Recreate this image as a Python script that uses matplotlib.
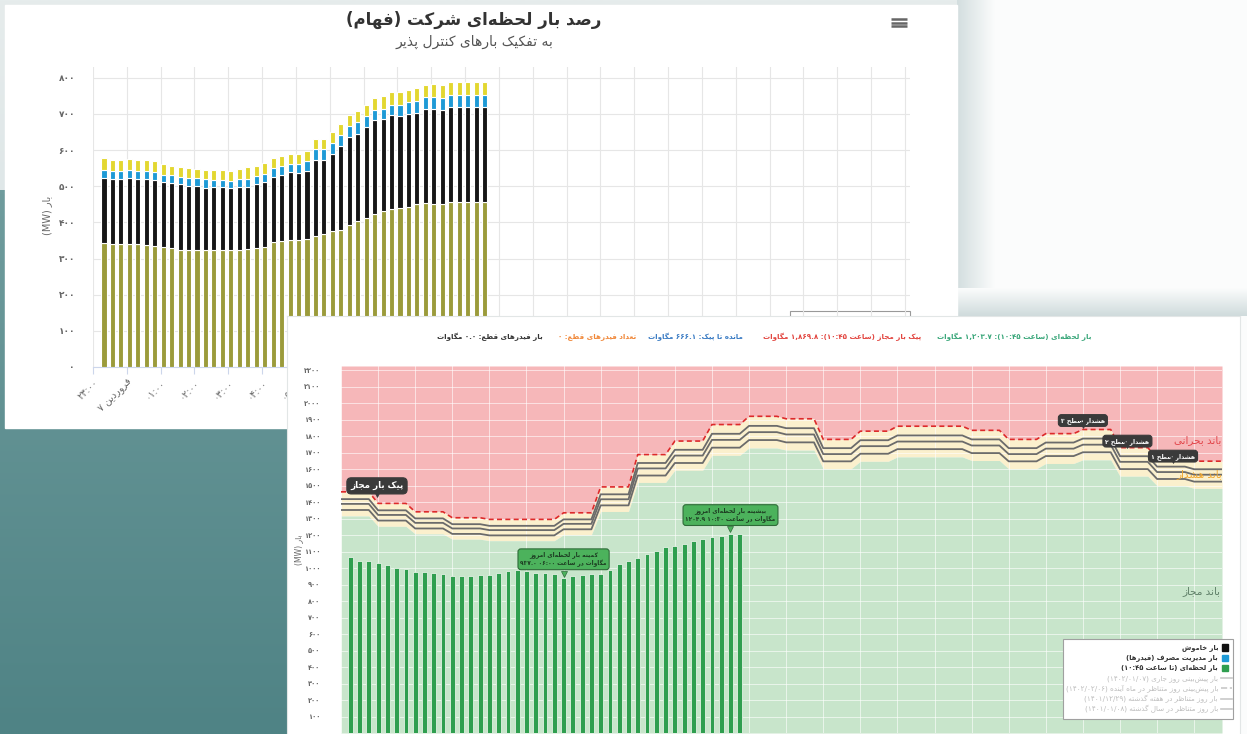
import re
import numpy as np
import matplotlib
matplotlib.use('Agg')
import matplotlib.pyplot as plt
import matplotlib.colors as mcolors
from matplotlib.patches import Rectangle
from matplotlib.transforms import ScaledTranslation

W, H = 1247, 734
plt.rcParams['font.family'] = ['DejaVu Sans']

# ---------------- data ----------------
# chart 1: stacked load per 15 min, 23:15 .. 10:30
olive_load = [344, 340, 339, 340, 340, 338, 334, 332, 328, 325, 325, 325, 323, 325, 325, 323,
              325, 327, 329, 332, 345, 348, 350, 352, 355, 362, 369, 375, 380, 392, 405, 412,
              423, 431, 437, 440, 442, 450, 454, 452, 452, 456, 456, 456, 456, 456]
off_load = [179, 180, 181, 183, 180, 182, 184, 179, 181, 180, 177, 175, 172, 172, 172, 171,
            172, 171, 177, 181, 182, 184, 189, 186, 188, 212, 205, 215, 231, 244, 241, 251,
            259, 255, 259, 254, 258, 253, 260, 262, 260, 262, 262, 262, 262, 262]
dsm_load = [21, 22, 22, 21, 22, 22, 21, 21, 21, 21, 21, 23, 24, 20, 20, 20,
            22, 22, 22, 22, 23, 23, 24, 25, 26, 28, 28, 30, 31, 30, 31, 31,
            30, 29, 30, 32, 32, 33, 32, 32, 32, 34, 34, 34, 34, 34]
yellow_load = [33, 30, 30, 32, 30, 30, 30, 31, 27, 27, 28, 25, 27, 27, 27, 28,
               29, 33, 29, 30, 29, 28, 27, 27, 28, 30, 30, 30, 31, 31, 32, 32,
               33, 34, 34, 35, 35, 35, 35, 36, 36, 37, 37, 37, 37, 37]

# chart 2: instantaneous load per 15 min, 00:15 .. 10:45
live_load = [1066, 1042, 1042, 1030, 1018, 1002, 996, 979, 975, 971, 961, 951, 951, 949, 955,
             959, 971, 981, 987, 981, 971, 971, 961, 937.0, 949, 955, 965, 965, 990, 1022,
             1042, 1062, 1088, 1105, 1130, 1134, 1148, 1162, 1176, 1187, 1197, 1204.9, 1203.7]

# hourly limits (MW), 00:00 .. 23:00
peak_allowed = [1462, 1392, 1341, 1305, 1295, 1295, 1335, 1492, 1688, 1770, 1870, 1920,
                1905, 1780, 1830, 1860, 1860, 1835, 1780, 1815, 1840, 1730, 1665, 1648]
alert_3 = [1418, 1350, 1301, 1266, 1256, 1256, 1295, 1447, 1637, 1717, 1814, 1862,
           1848, 1727, 1775, 1804, 1804, 1780, 1727, 1761, 1785, 1678, 1615, 1599]
alert_2 = [1389, 1322, 1274, 1240, 1230, 1230, 1268, 1417, 1604, 1682, 1777, 1824,
           1810, 1691, 1739, 1767, 1767, 1743, 1691, 1724, 1748, 1644, 1582, 1566]
alert_1 = [1352, 1288, 1240, 1207, 1198, 1198, 1235, 1380, 1561, 1637, 1730, 1776,
           1762, 1647, 1693, 1721, 1721, 1697, 1647, 1679, 1702, 1600, 1540, 1524]
warn_floor = [1316, 1253, 1207, 1175, 1166, 1166, 1202, 1343, 1519, 1593, 1683, 1728,
              1715, 1602, 1647, 1674, 1674, 1652, 1602, 1634, 1656, 1557, 1499, 1483]

header_stats = [
    ('بار فیدرهای قطع: 0.0 مگاوات', '#333333', 490),
    ('تعداد فیدرهای قطع: 0', '#f0883a', 597),
    ('مانده تا پیک: 666.1 مگاوات', '#3b7cc4', 695),
    ('پیک بار مجاز (ساعت 10:45): 1,869.8 مگاوات', '#e2453f', 842),
    ('بار لحظه‌ای (ساعت 10:45): 1,203.7 مگاوات', '#3aa77a', 1014),
]
legend_rows = [
    ('بار خاموش', 'sq', '#111111'),
    ('بار مدیریت مصرف (فیدرها)', 'sq', '#1e9ad6'),
    ('بار لحظه‌ای (تا ساعت 10:45)', 'sq', '#2f9e4f'),
    ('بار پیش‌بینی روز جاری (1402/01/07)', 'line', '#c8c8c8'),
    ('بار پیش‌بینی روز متناظر در ماه آینده (1402/02/06)', 'dash', '#c8c8c8'),
    ('بار روز متناظر در هفته گذشته (1401/12/29)', 'line', '#c8c8c8'),
    ('بار روز متناظر در سال گذشته (1401/01/08)', 'line', '#c8c8c8'),
]

# ---------------- persian text helpers ----------------
_DIG = str.maketrans('0123456789', '۰۱۲۳۴۵۶۷۸۹')
_AR = 'ءآأؤإئابةتثجحخدذرزسشصضطظعغفقكلمنهوىي'
_AR_N = [1, 2, 2, 2, 2, 4, 2, 4, 2, 4, 4, 4, 4, 4, 2, 2, 2, 2, 4, 4, 4, 4, 4, 4, 4, 4,
         4, 4, 4, 4, 4, 4, 4, 2, 2, 4]
FORMS = {}
code = 0xFE80
for ch, n in zip(_AR, _AR_N):
    FORMS[ch] = [chr(code + i) for i in range(n)]
    code += n
for ch, base, n in [('پ', 0xFB56, 4), ('چ', 0xFB7A, 4), ('ژ', 0xFB8A, 2),
                    ('ک', 0xFB8E, 4), ('گ', 0xFB92, 4), ('ی', 0xFBFC, 4)]:
    FORMS[ch] = [chr(base + i) for i in range(n)]

_LTR = re.compile(r'[0-9A-Za-z\u06F0-\u06F9]+(?:[.,:/][0-9A-Za-z\u06F0-\u06F9]+)*')
_MIRROR = {'(': ')', ')': '('}


def fnum(s):
    return str(s).translate(_DIG)


def _rtl(s):
    parts, pos = [], 0
    for m in _LTR.finditer(s):
        parts.extend(s[pos:m.start()])
        parts.append(m.group())
        pos = m.end()
    parts.extend(s[pos:])
    return ''.join(p if _LTR.fullmatch(p) else _MIRROR.get(p, p) for p in reversed(parts))


def fa(text, rtl=True):
    text = fnum(text)
    out = []
    for i, c in enumerate(text):
        f = FORMS.get(c)
        if f is None:
            if c != '\u200c':
                out.append(c)
            continue
        p = text[i - 1] if i else ''
        n = text[i + 1] if i + 1 < len(text) else ''
        jp = p in FORMS and len(FORMS[p]) == 4 and len(f) > 1
        jn = len(f) == 4 and n in FORMS
        out.append(f[3] if jp and jn else f[1] if jp else f[2] if jn else f[0])
    s = ''.join(out)
    if rtl:
        return _rtl(s)
    k = next((i for i, c in enumerate(s) if '\uFB50' <= c <= '\uFEFF'), len(s))
    return s[:k] + _rtl(s[k:])


# ---------------- figure ----------------
fig = plt.figure(figsize=(W / 100, H / 100), dpi=100)


def px(x0, y0, x1, y1):
    return [x0 / W, 1 - y1 / H, (x1 - x0) / W, (y1 - y0) / H]


def gradient(ax, x0, y0, x1, y1, c0, c1, vertical=True, z=0):
    c0 = np.array(mcolors.to_rgb(c0))
    c1 = np.array(mcolors.to_rgb(c1))
    t = np.linspace(0, 1, 64)[:, None]
    arr = c0 + (c1 - c0) * t
    img = arr[:, None, :] if vertical else arr[None, :, :]
    ax.imshow(img, extent=(x0, x1, y1, y0), aspect='auto', zorder=z, interpolation='bilinear')


bg = fig.add_axes([0, 0, 1, 1], zorder=0)
bg.add_patch(Rectangle((0, 0), W, H, color='#fbfcfc', zorder=0))
gradient(bg, 0, 190, 300, H, '#6f9c9d', '#4f8385', z=1)
gradient(bg, 0, 0, 960, 190, '#e6ecec', '#dfe7e8', z=1)
gradient(bg, 957, 0, 995, 316, '#d3dedf', '#fbfcfc', vertical=False, z=1)
gradient(bg, 957, 288, W, 316, '#fbfcfc', '#cfdbdc', z=2)
bg.add_patch(Rectangle((5, 5), 952, 423, color='white', zorder=3))
bg.set_xlim(0, W)
bg.set_ylim(H, 0)
bg.axis('off')

# hamburger icon
for yy in (19, 22.5, 26):
    bg.plot([891, 907], [yy, yy], color='#666666', lw=1.8, solid_capstyle='butt', zorder=4)
# top of chart 1 legend peeking out
bg.add_patch(Rectangle((790, 311), 120, 12, fc='white', ec='#999999', lw=0.8, zorder=4))

fig.text(474 / W, 1 - 20 / H, fa('رصد بار لحظه‌ای شرکت (فهام)'), ha='center', va='center',
         fontsize=12, fontweight='bold', color='#333333', zorder=3)
fig.text(474 / W, 1 - 42 / H, fa('به تفکیک بارهای کنترل پذیر'), ha='center', va='center',
         fontsize=10, color='#555555', zorder=3)
fig.text(47 / W, 1 - 215 / H, fa('بار (MW)'), ha='center', va='center', rotation=90,
         fontsize=7, color='#666666', zorder=3)

# ---------------- chart 1 ----------------
ax1 = fig.add_axes(px(93, 67, 910, 367), zorder=2)
ax1.set_facecolor('none')
t1 = np.arange(1, len(olive_load) + 1) * 0.25
bottom = np.zeros(len(t1))
for vals, col in [(olive_load, '#9b9b3b'), (off_load, '#161616'),
                  (dsm_load, '#1e9ad6'), (yellow_load, '#e3d730')]:
    ax1.bar(t1, vals, width=0.15, bottom=bottom, align='edge', color=col,
            edgecolor='white', linewidth=0.8, zorder=3)
    bottom = bottom + np.array(vals)
ax1.set_xlim(0, 24.15)
ax1.set_ylim(0, 830)
ax1.set_yticks(range(0, 801, 100))
ax1.set_yticklabels([fnum(v) for v in range(0, 801, 100)], fontsize=6.5, color='#666666',
                    fontweight='bold')
hours = list(range(25))
xlabels = [fnum(f'{(23 + h) % 24:02d}:00') for h in hours]
xlabels[1] = fa('7 فروردین', rtl=False)
ax1.set_xticks(hours)
ax1.set_xticklabels(xlabels, rotation=45, ha='right', va='top', rotation_mode='anchor',
                    fontsize=7, color='#666666')
ax1.tick_params(axis='y', length=0, pad=13)
ax1.tick_params(axis='x', length=5, color='#ccd6eb', pad=2)
ax1.grid(True, color='#e6e6e6', lw=0.8)
ax1.set_axisbelow(True)
for sp in ('top', 'right', 'left'):
    ax1.spines[sp].set_visible(False)
ax1.spines['bottom'].set_color('#ccd6eb')

# ---------------- panel 2 ----------------
p2 = fig.add_axes(px(287, 316, 1240, 735), zorder=4)
p2.set_facecolor('white')
p2.set_xticks([])
p2.set_yticks([])
for sp in p2.spines.values():
    sp.set_color('#e2e6e6')

ax2 = fig.add_axes(px(341, 366, 1222, 733), zorder=5)
t_lim = np.arange(len(peak_allowed) * 4) * 0.25
step = lambda v: np.repeat(v, 4)
ax2.fill_between(t_lim, step(peak_allowed), 2225, color='#f6b7b9', lw=0, zorder=0.1)
ax2.fill_between(t_lim, step(warn_floor), step(peak_allowed), color='#fbf0cd', lw=0, zorder=0.1)
ax2.fill_between(t_lim, 0, step(warn_floor), color='#c8e5cb', lw=0, zorder=0.1)
for lvl in (alert_1, alert_2, alert_3):
    ax2.plot(t_lim, step(lvl), color='#6b6b6b', lw=1.3, zorder=2)
ax2.plot(t_lim, step(peak_allowed), color='#dd2a2a', lw=1.2, ls=(0, (3, 2)), zorder=2.5)

t2 = np.arange(1, len(live_load) + 1) * 0.25
ax2.bar(t2, live_load, width=0.13, color='#2f9e4f', edgecolor='#e3f2e4', linewidth=0.6, zorder=3)

ax2.set_xlim(0, 23.75)
ax2.set_ylim(0, 2225)
ax2.set_xticks(range(24))
ax2.set_yticks(range(100, 2201, 100))
ax2.set_yticklabels([fnum(v) for v in range(100, 2201, 100)], fontsize=4.8, color='#666666',
                    fontweight='bold')
ax2.tick_params(axis='y', length=0, pad=15)
ax2.tick_params(axis='x', length=0, labelbottom=False)
ax2.grid(True, color='white', lw=0.7, alpha=0.6)
ax2.set_axisbelow(True)
for sp in ax2.spines.values():
    sp.set_visible(False)


def callout(ax, x, y, text, fc, ec, tc, fs, dx=0, dy=8, weight='bold'):
    ax.annotate(text, xy=(x, y), xytext=(dx, dy), textcoords='offset points', ha='center',
                va='bottom', fontsize=fs, color=tc, fontweight=weight, linespacing=1.35,
                bbox=dict(boxstyle='round,pad=0.4,rounding_size=0.5', fc=fc, ec=ec, lw=0.8),
                zorder=6, annotation_clip=False)
    ax.plot(x, y, marker='v', ms=4.5, color=fc, mec=ec, mew=0.5, zorder=6.5, clip_on=False,
            transform=ax.transData + ScaledTranslation(0, 3.5 / 72, fig.dpi_scale_trans))


callout(ax2, 0.97, 1420, fa('پیک بار مجاز'), '#3a3a3a', '#3a3a3a', 'white', 6.3, dy=6)
callout(ax2, t2[23], live_load[23],
        fa('کمینه بار لحظه‌ای امروز') + '\n' + fa('937.0 مگاوات در ساعت 06:00', rtl=False),
        '#4cb25c', '#2e6b38', '#1d3d22', 4.2)
callout(ax2, t2[41], live_load[41],
        fa('بیشینه بار لحظه‌ای امروز') + '\n' + fa('1204.9 مگاوات در ساعت 10:30', rtl=False),
        '#4cb25c', '#2e6b38', '#1d3d22', 4.2)
callout(ax2, 20.0, peak_allowed[20], fa('هشدار سطح 3'), '#3a3a3a', '#3a3a3a', 'white', 4.4, dy=4)
callout(ax2, 21.2, 1715, fa('هشدار سطح 2'), '#3a3a3a', '#3a3a3a', 'white', 4.4, dy=4)
callout(ax2, 22.43, 1624, fa('هشدار سطح 1'), '#3a3a3a', '#3a3a3a', 'white', 4.4, dy=4)

# ---------------- overlay for panel 2 texts ----------------
ov = fig.add_axes([0, 0, 1, 1], zorder=8)
ov.set_xlim(0, W)
ov.set_ylim(H, 0)
ov.axis('off')

for txt, col, xc in header_stats:
    ov.text(xc, 337, fa(txt), ha='center', va='center', fontsize=5.1, fontweight='bold', color=col)

ov.text(299, 550, fa('بار (MW)'), ha='center', va='center', rotation=90, fontsize=5.5,
        color='#666666')
ov.text(1221, 440, fa('باند بحرانی'), ha='right', va='center', fontsize=7.5, color='#e2454a')
ov.text(1222, 474, fa('باند هشدار'), ha='right', va='center', fontsize=7.5, color='#f2a72e')
ov.text(1220, 591, fa('باند مجاز'), ha='right', va='center', fontsize=7.5, color='#5f7f68')

ov.add_patch(Rectangle((1063, 639), 170, 80, fc='white', ec='#a0a0a0', lw=0.8))
for i, (lab, kind, col) in enumerate(legend_rows):
    y = 647.5 + i * 10.2
    dark = i < 3
    ov.text(1218, y, fa(lab), ha='right', va='center', fontsize=4.9 if dark else 5.2,
            fontweight='bold' if dark else 'normal', color='#333333' if dark else '#bdbdbd')
    if kind == 'sq':
        ov.add_patch(Rectangle((1222, y - 3.2), 6.4, 6.4, color=col))
    else:
        ov.plot([1221, 1232], [y, y], color=col, lw=1.2, ls='--' if kind == 'dash' else '-')

fig.savefig('out.png', dpi=100)
